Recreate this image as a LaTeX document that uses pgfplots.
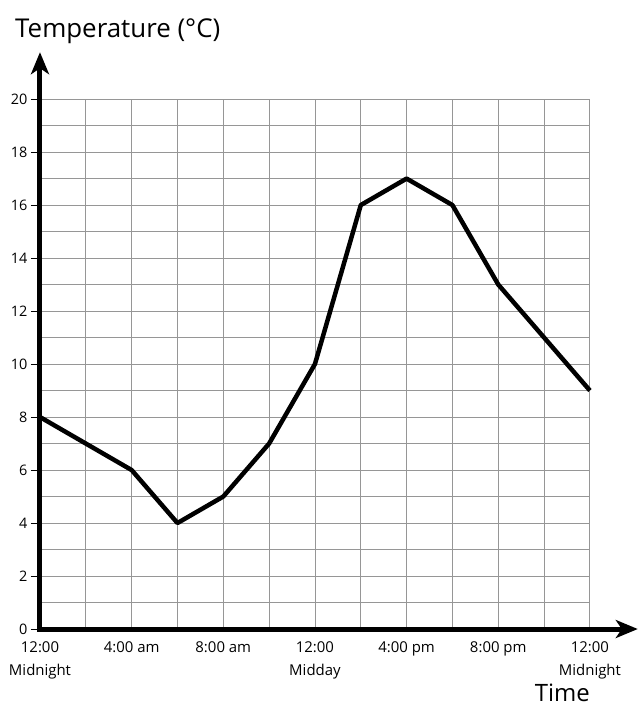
\documentclass[border=0pt]{standalone}
\usepackage{fontspec}
\setmainfont{Open Sans}
\usepackage{pgfplots}
\pgfplotsset{compat=1.18}
\usetikzlibrary{arrows.meta}

\definecolor{gridgray}{RGB}{150,150,150}

\begin{document}
\begin{tikzpicture}
\begin{axis}[
  x=22.917bp, y=26.5bp,
  xmin=0, xmax=24, ymin=0, ymax=20,
  clip=false,
  axis line style={draw=none},
  xtick={0,4,...,24},
  minor xtick={2,6,...,22},
  ytick={0,2,...,20},
  minor ytick={1,3,...,19},
  ytick pos=left,
  xticklabels={{12:00\\Midnight},{4:00 am},{8:00 am},{12:00\\Midday},{4:00 pm},{8:00 pm},{12:00\\Midnight}},
  grid=both,
  grid style={draw=gridgray, line width=0.9bp},
  minor grid style={draw=gridgray, line width=0.9bp},
  major grid style={draw=gridgray, line width=0.9bp},
  tick align=outside,
  major tick length=9bp,
  minor tick length=0pt,
  xtick style={draw=none},
  ytick style={black, line width=0.8bp},
  x tick label style={align=center, font=\fontsize{15}{23}\selectfont},
  y tick label style={font=\fontsize{14.5}{16}\selectfont},
  /pgf/number format/assume math mode=true,
]
\addplot[black, line width=4.5bp, line join=round] coordinates {
  (0,8) (2,7) (4,6) (6,4) (8,5) (10,7) (12,10)
  (14,16) (16,17) (18,16) (20,13) (22,11) (24,9)
};
\draw[line width=5bp, line join=miter,
  {Stealth[length=22bp, width=18bp, inset=6bp]}-{Stealth[length=22bp, width=18bp, inset=6bp]}]
  (axis cs:0,21.77) -- (axis cs:0,0) -- (axis cs:26.09,0);
\node[anchor=base west, inner sep=0pt, font=\fontsize{26}{30}\selectfont]
  at (axis cs:-1.09,22.34) {Temperature (°C)};
\node[anchor=base east, inner sep=0pt, font=\fontsize{24}{28}\selectfont]
  at (axis cs:24,-2.72) {Time};
\path (axis cs:-1.745,23.74) rectangle (axis cs:26.09,-2.943);
\end{axis}
\end{tikzpicture}
\end{document}
